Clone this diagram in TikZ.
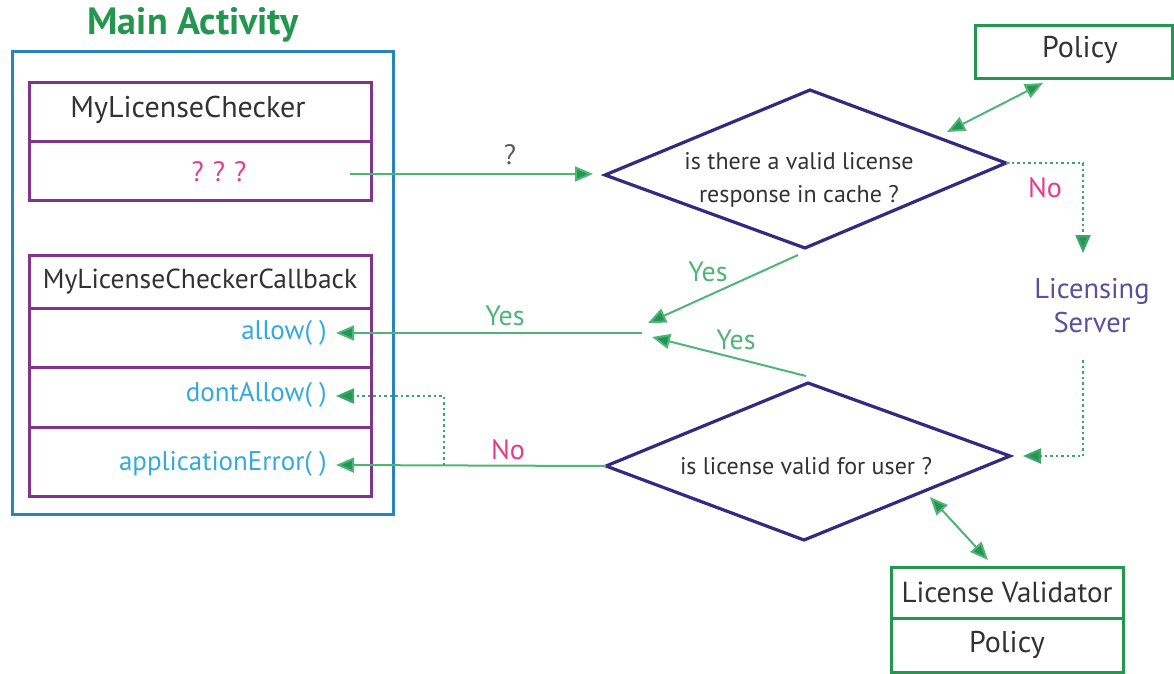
\documentclass[tikz,border=0pt]{standalone}
\usepackage{fontspec}
\setmainfont{PT Sans}
\usetikzlibrary{arrows.meta}
\definecolor{gr}{RGB}{35,150,80}
\definecolor{grl}{RGB}{80,180,120}
\definecolor{grd}{RGB}{60,165,105}
\definecolor{bluebox}{RGB}{40,130,195}
\definecolor{purp}{RGB}{128,52,140}
\definecolor{dia}{RGB}{52,42,128}
\definecolor{meth}{RGB}{50,170,222}
\definecolor{pink}{RGB}{228,60,140}
\definecolor{srv}{RGB}{90,80,160}
\definecolor{txt}{RGB}{50,50,50}
\tikzset{
  cell/.style={draw=purp, line width=3pt, minimum width=342pt, inner sep=0pt, outer sep=0pt, anchor=north west},
  gbox/.style={draw=gr, line width=3pt, inner sep=0pt, outer sep=0pt, anchor=north west},
  dshape/.style={draw=dia, line width=3.2pt, line join=miter},
  conn/.style={draw=grl, line width=2pt, -{Triangle[length=18pt,width=15pt,fill=gr]}},
  dconn/.style={draw=grl, line width=2pt, {Triangle[length=18pt,width=15pt,fill=gr]}-{Triangle[length=18pt,width=15pt,fill=gr]}},
  dotconn/.style={draw=grd, line width=2.4pt, dash pattern=on 2.5pt off 3pt, -{Triangle[length=18pt,width=15pt,fill=gr]}},
  cls/.style={text=txt, font=\fontsize{30}{33}\selectfont, inner sep=0pt},
  mth/.style={text=meth, font=\fontsize{27}{30}\selectfont, inner sep=0pt, anchor=east},
  lblg/.style={text=grl, font=\fontsize{28}{30}\selectfont, inner sep=0pt},
  lblp/.style={text=pink, font=\fontsize{28}{30}\selectfont, inner sep=0pt},
  qtxt/.style={text=txt, font=\fontsize{24}{33}\selectfont, inner sep=0pt, align=center},
}
\begin{document}
\begin{tikzpicture}[x=1pt,y=-1pt]
\useasboundingbox (0,0) rectangle (1174,673);

% Main activity
\node[text=gr, font=\bfseries\fontsize{38}{40}\selectfont, inner sep=0pt] (title) at (193,25) {Main Activity};
\node[draw=bluebox, line width=3pt, inner sep=0pt, outer sep=0pt, anchor=north west, minimum width=381pt, minimum height=463pt] (main) at (12,51) {};

% MyLicenseChecker
\node[cell, minimum height=59pt] (mlc) at (29,82) {};
\node[cell, minimum height=59pt] (mlcq) at (29,141) {};
\node[cls] (mlct) at (188,110) {MyLicenseChecker};
\node[text=pink, font=\fontsize{28}{30}\selectfont, inner sep=0pt] (qqq) at (219,172) {?\hspace{9pt}?\hspace{9pt}?};

% Callback
\node[cell, minimum height=53pt] (cb) at (29,255) {};
\node[cell, minimum height=59pt] (cba) at (29,308) {};
\node[cell, minimum height=60pt] (cbd) at (29,367) {};
\node[cell, minimum height=69pt] (cbe) at (29,427) {};
\node[cls, font=\fontsize{27.5}{30}\selectfont] (cbt) at (200,282) {MyLicenseCheckerCallback};
\node[mth] (allow) at (327,333) {allow( )};
\node[mth] (dont) at (327,395) {dontAllow( )};
\node[mth] (apperr) at (327,464) {applicationError( )};

% Diamond 1
\coordinate (d1l) at (605,175);
\coordinate (d1t) at (810,90);
\coordinate (d1r) at (1006,163);
\coordinate (d1b) at (805,248);
\draw[dshape] (d1l) -- (d1t) -- (d1r) -- (d1b) -- cycle;
\node[qtxt] (d1txt) at (799,180) {is there a valid license\\response in cache ?};

% Diamond 2
\coordinate (d2l) at (606,466);
\coordinate (d2t) at (808,383);
\coordinate (d2r) at (1010,456);
\coordinate (d2b) at (804,540);
\draw[dshape] (d2l) -- (d2t) -- (d2r) -- (d2b) -- cycle;
\node[qtxt] (d2txt) at (806,466) {is license valid for user ?};

% Policy top
\node[gbox, minimum width=197pt, minimum height=53pt] (pol) at (975,25) {};
\node[cls] (polt) at (1080,50) {Policy};

% Licensing server
\node[text=srv, font=\fontsize{28.5}{34}\selectfont, inner sep=0pt, align=center] (srvt) at (1092,306) {Licensing\\Server};

% License validator
\node[gbox, minimum width=232pt, minimum height=51pt] (lv) at (891,567) {};
\node[gbox, minimum width=232pt, minimum height=54pt] (lvp) at (891,618) {};
\node[cls, font=\fontsize{29}{32}\selectfont] (lvt) at (1007,592) {License Validator};
\node[cls] (lvpt) at (1007,645) {Policy};

% connector coordinates
\coordinate (qs) at (350,174);
\coordinate (qe) at (593,174);
\coordinate (y1s) at (798,255);
\coordinate (y1e) at (648,323);
\coordinate (y2s) at (806,376);
\coordinate (y2e) at (652,337);
\coordinate (as) at (642,333);
\coordinate (ae) at (336,333);
\coordinate (ne) at (336,465);
\coordinate (nj) at (444,465);
\coordinate (dk) at (444,396);
\coordinate (de) at (336,396);
\coordinate (pa) at (1043,83);
\coordinate (pb) at (947,132);
\coordinate (nk) at (1083,163);
\coordinate (nend) at (1083,253);
\coordinate (ls) at (1083,360);
\coordinate (lk) at (1083,456);
\coordinate (lend) at (1023,456);
\coordinate (va) at (930,497);
\coordinate (vb) at (988,560);

\draw[conn] (qs) -- (qe);
\draw[conn] (y1s) -- (y1e);
\draw[conn] (y2s) -- (y2e);
\draw[conn] (as) -- (ae);
\draw[conn] (d2l) -- (ne);
\draw[dotconn] (nj) -- (dk) -- (de);
\draw[dconn] (pa) -- (pb);
\draw[dotconn] (d1r) -- (nk) -- (nend);
\draw[dotconn] (ls) -- (lk) -- (lend);
\draw[dconn] (va) -- (vb);

% labels
\node[text=txt!80, font=\fontsize{28}{30}\selectfont, inner sep=0pt] (qlab) at (510,155) {?};
\node[lblg] (yes1) at (708,272) {Yes};
\node[lblg] (yes2) at (505,316) {Yes};
\node[lblg] (yes3) at (736,340) {Yes};
\node[lblp] (no1) at (1045,188) {No};
\node[lblp] (no2) at (508,450) {No};
\end{tikzpicture}
\end{document}
